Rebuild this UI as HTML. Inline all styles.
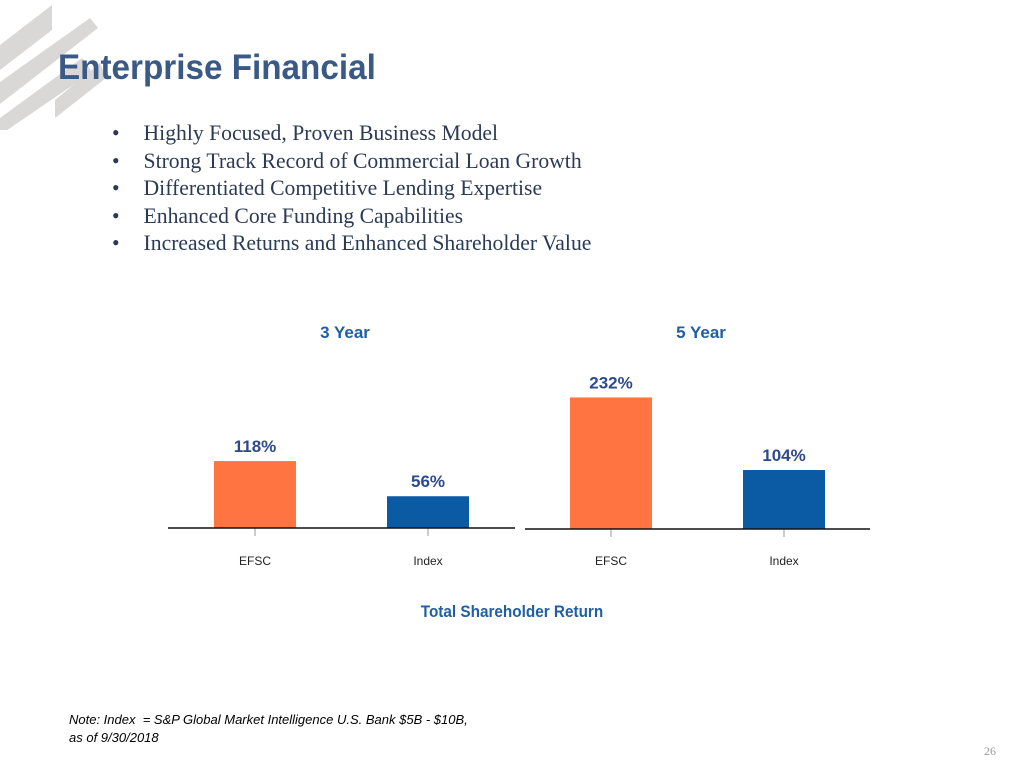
<!DOCTYPE html>
<html><head><meta charset="utf-8"><style>
body{margin:0;width:1024px;height:768px;background:#fff;position:relative;overflow:hidden;font-family:"Liberation Sans",sans-serif}
.t{position:absolute;white-space:nowrap}
ul{position:absolute;left:112px;top:120px;margin:0;padding:0;list-style:none;font-family:"Liberation Serif",serif;font-size:22px;color:#2b3a55}
li{height:27.5px;position:relative;padding-left:32px;transform:scaleX(0.985);transform-origin:left}
li:before{content:"•";position:absolute;left:0}
</style></head><body>
<svg style="position:absolute;left:0;top:0" width="120" height="130">
<polygon points="0,45 52,5 52,30 0,70" fill="#d9d8d6"/>
<polygon points="0,82 90,18 98,28 0,104" fill="#d9d8d6"/>
<polygon points="0,118 82,58 92,72 0,135" fill="#d9d8d6"/>
<polygon points="55,100 100,63 106,78 55,118" fill="#d9d8d6"/>
</svg>
<div class="t" style="left:58px;top:48px;font-size:35px;font-weight:bold;color:#3a5a85;transform:scaleX(0.95);transform-origin:left">Enterprise Financial</div>
<ul>
<li>Highly Focused, Proven Business Model</li>
<li>Strong Track Record of Commercial Loan Growth</li>
<li>Differentiated Competitive Lending Expertise</li>
<li>Enhanced Core Funding Capabilities</li>
<li>Increased Returns and Enhanced Shareholder Value</li>
</ul>
<svg id="chart" style="position:absolute;left:0;top:0" width="1024" height="768"></svg>
<div class="t" style="left:0;width:1024px;text-align:center;top:602px;font-size:17px;font-weight:bold;color:#1f5fa3;transform:scaleX(0.9)">Total Shareholder Return</div>
<div class="t" style="left:69px;top:711px;font-size:13px;font-style:italic;line-height:18px;color:#000">Note: Index&nbsp; = S&amp;P Global Market Intelligence U.S. Bank $5B - $10B,<br>as of 9/30/2018</div>
<div class="t" style="left:984px;top:744px;font-size:12px;font-family:'Liberation Serif',serif;color:#999">26</div>
<script>
const periods=["3 Year","5 Year"];
const categories=["EFSC","Index"];
const efscValues=[118,232];
const indexValues=[56,104];
const svg=document.getElementById('chart');
const NS='http://www.w3.org/2000/svg';
const panels=[{x0:168,x1:515,base:528,cx:[255,428],title:345},{x0:525,x1:870,base:529,cx:[611,784],title:701}];
const scale=0.567;
function y(v,p){return p.base-v*scale;}
function mk(tag,attrs,txt){const e=document.createElementNS(NS,tag);for(const k in attrs)e.setAttribute(k,attrs[k]);if(txt!==undefined)e.textContent=txt;svg.appendChild(e);return e;}
panels.forEach((p,i)=>{
  const t=mk('text',{x:p.title,y:338,'text-anchor':'middle','font-size':17,'font-weight':'bold',fill:'#1f5fa3'},periods[i]);
  
  
  const vals=[efscValues[i],indexValues[i]];
  vals.forEach((v,j)=>{
    const r=mk('rect',{x:p.cx[j]-41,y:y(v,p),width:82,height:v*scale,fill:j==0?'#ff7440':'#0b5aa4'});
    
    
    const l=mk('text',{x:p.cx[j],y:y(v,p)-9,'text-anchor':'middle','font-size':17,'font-weight':'bold',fill:'#2e4a8c'},v+'%');
    
    
    const tk=mk('line',{x1:p.cx[j],x2:p.cx[j],y1:p.base,y2:p.base+8,stroke:'#999','stroke-width':1});
    
    
    const c=mk('text',{x:p.cx[j],y:565,'text-anchor':'middle','font-size':12,fill:'#222'},categories[j]);
    
    
  });
  const a=mk('line',{x1:p.x0,x2:p.x1,y1:p.base,y2:p.base,stroke:'#111','stroke-width':1.5});
  
  
});
</script>
</body></html>
